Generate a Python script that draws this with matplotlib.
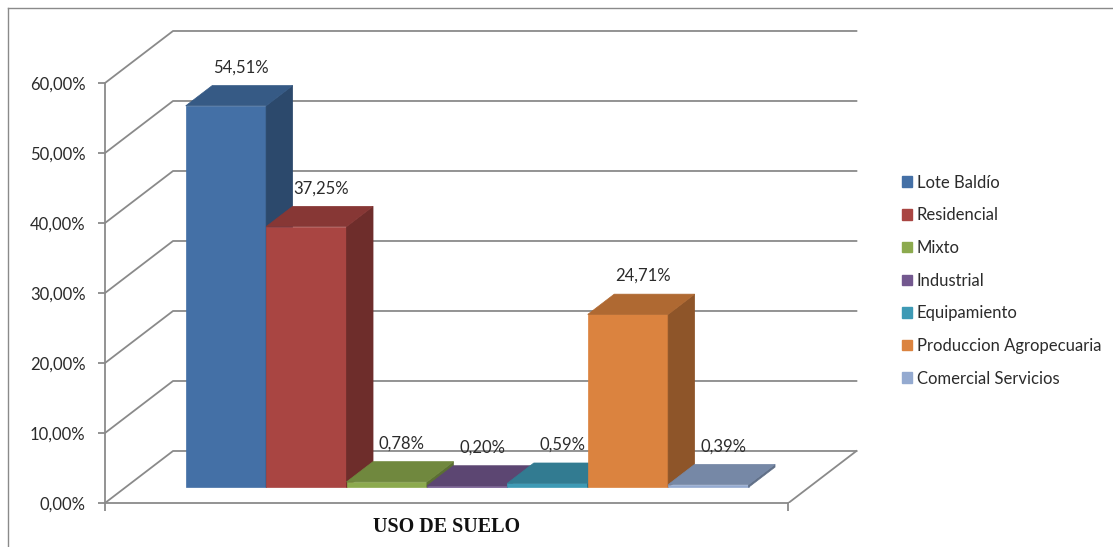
import matplotlib.pyplot as plt
import numpy as np
from matplotlib.patches import Polygon, Patch
from matplotlib.lines import Line2D
from matplotlib.colors import to_rgb

plt.rcParams['font.family'] = ['Lato', 'DejaVu Sans']

# Land use shares (%)
categories = ['Lote Baldío', 'Residencial', 'Mixto', 'Industrial',
              'Equipamiento', 'Produccion Agropecuaria', 'Comercial Servicios']
values = [54.51, 37.25, 0.78, 0.20, 0.59, 24.71, 0.39]
value_labels = ['54,51%', '37,25%', '0,78%', '0,20%', '0,59%', '24,71%', '0,39%']
colors = ['#4470A6', '#A94542', '#8CAA4E', '#73588F', '#3E9AB5', '#DB833F', '#94AAD0']
yticks = [0, 10, 20, 30, 40, 50, 60]
ytick_labels = ['0,00%', '10,00%', '20,00%', '30,00%', '40,00%', '50,00%', '60,00%']

# oblique "3D" settings (depth offset in data units)
DX, DY = 0.846, 7.43
GAP = 0.75
BAR_Z0, BAR_DZ = 0.3, 0.39
GRID = '#8a8a8a'
TEXT = '#2b2b2b'

fig = plt.figure(figsize=(11.13, 5.47), dpi=100)
ax = fig.add_axes([105 / 1113, 44 / 547, 755 / 1113, 473 / 547])
x0 = -0.5 - GAP
x1 = len(values) - 0.5 + GAP
ax.set_xlim(x0, x0 + 755 / 80.4)
ax.set_ylim(0, 473 / 7)

# back wall grid + side wall diagonals
for v in yticks:
    ax.plot([x0, x0 + DX, x1 + DX], [v, v + DY, v + DY], color=GRID, lw=1.3, zorder=1)
# floor right edge
ax.plot([x1, x1 + DX], [0, DY], color=GRID, lw=1.3, zorder=1)


def shade(c, f):
    return tuple(np.array(to_rgb(c)) * f)


# bars, drawn left to right so each one overlaps the side of the previous
for i, (v, c) in enumerate(zip(values, colors)):
    xl, xr = i - 0.5, i + 0.5
    dx0, dy0 = BAR_Z0 * DX, BAR_Z0 * DY
    dx1, dy1 = BAR_DZ * DX, BAR_DZ * DY
    b = dy0
    t = dy0 + v
    front = [(xl + dx0, b), (xr + dx0, b), (xr + dx0, t), (xl + dx0, t)]
    top = [(xl + dx0, t), (xr + dx0, t), (xr + dx0 + dx1, t + dy1), (xl + dx0 + dx1, t + dy1)]
    side = [(xr + dx0, b), (xr + dx0 + dx1, b + dy1), (xr + dx0 + dx1, t + dy1), (xr + dx0, t)]
    for pts, f in [(front, 1.0), (side, 0.65), (top, 0.8)]:
        col = shade(c, f)
        ax.add_patch(Polygon(pts, closed=True, facecolor=col, edgecolor=col,
                             lw=0.5, zorder=2 + i))
    ax.text(i + 0.19 + dx0, t + dy1 + 2.6, value_labels[i], ha='center', va='center',
            fontsize=12, color=TEXT, zorder=20)

# axes styling
for s in ['top', 'right']:
    ax.spines[s].set_visible(False)
ax.spines['left'].set_bounds(0, 60)
ax.spines['bottom'].set_bounds(x0, x1)
ax.spines['left'].set_color(GRID)
ax.spines['bottom'].set_color(GRID)
ax.spines['left'].set_linewidth(1.3)
ax.spines['bottom'].set_linewidth(1.3)
ax.set_yticks(yticks)
ax.set_yticklabels(ytick_labels)
ax.tick_params(axis='y', direction='out', length=5, color=GRID, width=1.3,
               labelsize=12, labelcolor=TEXT, pad=9)
ax.set_xticks([(x0 + x1) / 2])
ax.set_xticklabels(['USO DE SUELO'], fontfamily='Liberation Serif', fontweight='bold',
                   fontsize=14.5, color='#111111')
ax.set_xticks([x0, x1], minor=True)
ax.tick_params(axis='x', which='major', length=0, pad=10)
ax.tick_params(axis='x', which='minor', direction='out', length=6, color=GRID, width=1.3)
ax.patch.set_visible(False)

# legend
handles = [Patch(facecolor=c, edgecolor=c) for c in colors]
fig.legend(handles, categories, loc='upper left', bbox_to_anchor=(895 / 1113, 1 - 168 / 547),
           frameon=False, fontsize=12, handlelength=0.6, handleheight=0.6,
           handletextpad=0.3, labelspacing=1.0, borderaxespad=0, labelcolor=TEXT)

# chart frame
fig.add_artist(Line2D([8 / 1113, 1], [1 - 8 / 547, 1 - 8 / 547], color=GRID, lw=1))
fig.add_artist(Line2D([8 / 1113, 8 / 1113], [0, 1 - 8 / 547], color=GRID, lw=1))

fig.savefig('out.png', dpi=100)
